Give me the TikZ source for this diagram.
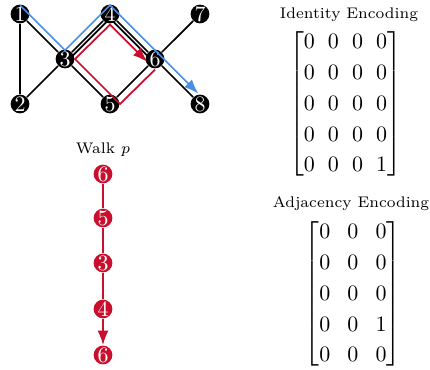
\documentclass[tikz,border=0pt]{standalone}
\usepackage{amsmath}
\usetikzlibrary{arrows.meta,backgrounds}
\definecolor{walkred}{RGB}{200,16,46}
\definecolor{walkblue}{RGB}{74,144,226}

\begin{document}
\begin{tikzpicture}[
    vertex/.style={circle, fill=black, text=white, inner sep=0pt, minimum size=0.3cm},
    walkvertex/.style={circle, fill=walkred, text=white, inner sep=0pt, minimum size=0.3cm},
    edge/.style={thick},
    label/.style={font=\scriptsize},
    ]
    \useasboundingbox (0,0) rectangle (6.88,5.904);
    % graph
    \node[vertex] (v1) at (0.32, 5.68) {$1$};
    \node[vertex] (v2) at (0.32, 4.24) {$2$};
    \node[vertex] (v3) at (1.04, 4.96) {$3$};
    \node[vertex] (v4) at (1.76, 5.68) {$4$};
    \node[vertex] (v5) at (1.76, 4.24) {$5$};
    \node[vertex] (v6) at (2.48, 4.96) {$6$};
    \node[vertex] (v7) at (3.20, 5.68) {$7$};
    \node[vertex] (v8) at (3.20, 4.24) {$8$};
    \begin{scope}[on background layer]
    \draw[edge] (v1) -- (v2) -- (v3) -- (v1);
    \draw[edge] (v3) -- (v4) -- (v6) -- (v5) -- (v3);
    \draw[edge] (v7) -- (v6) -- (v8);
    \draw[edge] ([yshift=-0.07cm]v3.center) -- ([yshift=-0.07cm]v4.center) -- ([yshift=-0.07cm]v6.center);
    \end{scope}
    % walks
    \draw[walkblue, thick, -{Latex}, shorten >=1pt] ([yshift=0.14cm]v1.center) -- ([yshift=0.14cm]v3.center) -- ([yshift=0.14cm]v4.center) -- ([yshift=0.14cm]v6.center) -- ([yshift=0.14cm]v8.center);
    \draw[walkred, thick, -{Latex}, shorten >=5pt] ([yshift=-0.17cm]v6.center) -- ([xshift=0.16cm]v5.center) -- ([xshift=0.16cm]v3.center) -- ([yshift=-0.17cm]v4.center) -- ([yshift=-0.17cm]v6.center);
    % walk p
    \node[label] (walktitle) at (1.648, 3.504) {Walk $p$};
    \node[walkvertex] (w1) at (1.648, 3.12) {$6$};
    \node[walkvertex] (w2) at (1.648, 2.416) {$5$};
    \node[walkvertex] (w3) at (1.648, 1.696) {$3$};
    \node[walkvertex] (w4) at (1.648, 0.96) {$4$};
    \node[walkvertex] (w5) at (1.648, 0.224) {$6$};
    \draw[walkred, thick] (w1) -- (w2) -- (w3) -- (w4);
    \draw[walkred, thick, -{Latex}] (w4) -- (w5);
    % encodings
    \node[label] (idtitle) at (5.584, 5.664) {Identity Encoding};
    \node (idmat) at (5.528, 4.24) {\arraycolsep=3pt\def\arraystretch{1.17}$\begin{bmatrix}
        0 & 0 & 0 & 0\\
        0 & 0 & 0 & 0\\
        0 & 0 & 0 & 0\\
        0 & 0 & 0 & 0\\
        0 & 0 & 0 & 1
    \end{bmatrix}$};
    \node[label] (adjtitle) at (5.616, 2.64) {Adjacency Encoding};
    \node (adjmat) at (5.648, 1.2) {\arraycolsep=3.9pt\def\arraystretch{1.17}$\begin{bmatrix}
        0 & 0 & 0\\
        0 & 0 & 0\\
        0 & 0 & 0\\
        0 & 0 & 1\\
        0 & 0 & 0
    \end{bmatrix}$};
\end{tikzpicture}
\end{document}
